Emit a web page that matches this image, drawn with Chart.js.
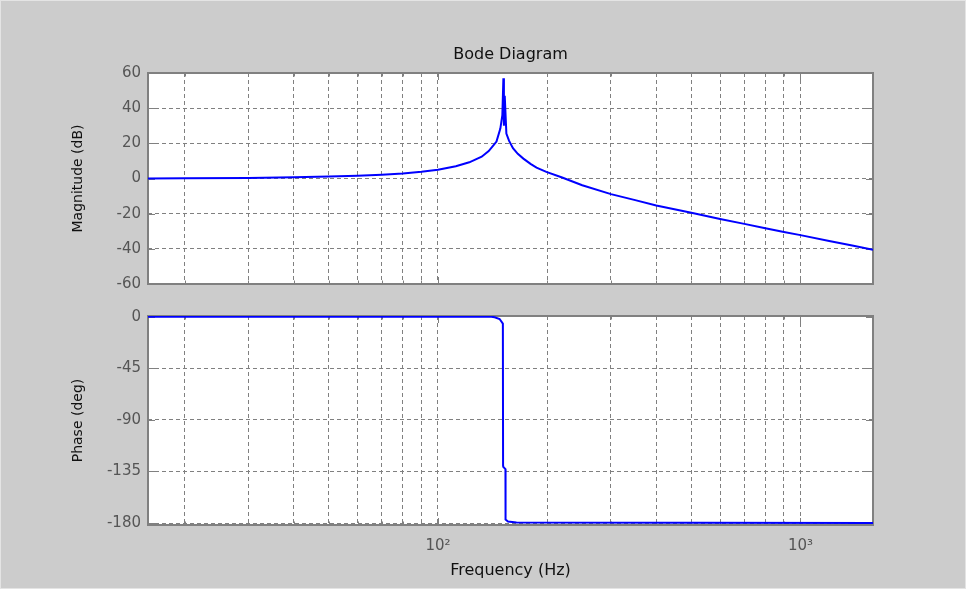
<!DOCTYPE html>
<html>
<head>
<meta charset="utf-8">
<title>Bode Diagram</title>
<script src="https://cdn.jsdelivr.net/npm/chart.js@4.4.1/dist/chart.umd.min.js"></script>
<style>
  html, body { margin: 0; padding: 0; background: #cccccc; }
  #frame {
    position: relative;
    width: 966px;
    height: 589px;
    box-shadow: inset 1px 1px 0 #e4e4e4, inset -1px -1px 0 #e4e4e4;
  }
  #frame canvas { position: absolute; left: 0; }
  #magChart { top: 0; }
  #phaseChart { top: 300px; }
</style>
</head>
<body>
<div id="frame">
  <canvas id="magChart" width="966" height="300"></canvas>
  <canvas id="phaseChart" width="966" height="289"></canvas>
</div>
<script>
/* ================================
   Data
================================ */
const magFreq = [15.85, 20, 30, 40, 50, 60, 70, 80, 90, 100, 112, 122, 132, 138, 142, 145,
                 148.6, 150.5, 151.5, 152, 152.8, 154.4, 157, 161, 166, 172, 180, 187, 199,
                 220, 250, 300, 350, 400, 500, 600, 700, 800, 900, 1000, 1200, 1400, 1585];
const magDb = [0, 0.1, 0.35, 0.7, 1.1, 1.6, 2.2, 2.9, 3.8, 5.0, 7.0, 9.2, 12.4, 15.6, 18.7, 21,
               28.4, 36, 57, 30, 47, 25.6, 21.5, 17.2, 14, 11.3, 8.3, 6.2, 3.8,
               0.6, -3.8, -8.9, -12.3, -15.3, -19.5, -23.0, -25.8, -28.3, -30.4, -32.2, -35.5, -38.3, -40.5];

const phaseFreq = [15.85, 140.4, 143.3, 147.9, 151.0, 151.2, 151.4, 153.5, 153.6, 156, 164.6, 1585];
const phaseDeg = [0, 0, -0.5, -2, -6, -130, -131, -133, -177, -178.6, -179.5, -180];

// grid positions and labels on the frequency axis
const freqGrid = [20, 30, 40, 50, 60, 70, 80, 90, 100, 200, 300, 400, 500, 600, 700, 800, 900, 1000];
const freqMajor = [100, 1000];
const freqLabels = ['10²', '10³'];

const magTicks = [60, 40, 20, 0, -20, -40, -60];
const phaseTicks = [0, -45, -90, -135, -180];

const FREQ_MIN = 15.85;
const FREQ_MAX = 1585;

/* ================================
   Shared styling
================================ */
const GRID = '#808080';
const FONT = "'DejaVu Sans', 'Liberation Sans', sans-serif";
const TICK_FONT = { family: FONT, size: 15 };

function toPoints(xs, ys) {
    return xs.map((x, i) => ({ x: x, y: ys[i] }));
}

function fixedTicks(values) {
    return scale => { scale.ticks = values.map(v => ({ value: v })); };
}

function freqLabel(value) {
    const i = freqMajor.indexOf(value);
    return i >= 0 ? freqLabels[i] : '';
}

// white plot area, grey box and the little inward tick marks
const plotFrame = {
    id: 'plotFrame',
    beforeDraw(chart) {
        const { ctx, chartArea: a } = chart;
        ctx.save();
        ctx.fillStyle = '#ffffff';
        ctx.fillRect(a.left, a.top, a.width, a.height);
        ctx.restore();
    },
    beforeDatasetsDraw(chart) {
        const { ctx, chartArea: a, scales } = chart;
        ctx.save();
        ctx.strokeStyle = GRID;
        ctx.lineWidth = 1;
        ctx.beginPath();
        freqGrid.forEach(f => {
            const x = Math.round(scales.x.getPixelForValue(f)) + 0.5;
            const len = freqMajor.includes(f) ? 7 : 3.5;
            ctx.moveTo(x, a.bottom); ctx.lineTo(x, a.bottom - len);
            ctx.moveTo(x, a.top); ctx.lineTo(x, a.top + len);
        });
        scales.y.ticks.forEach(t => {
            const y = Math.round(scales.y.getPixelForValue(t.value)) + 0.5;
            ctx.moveTo(a.left, y); ctx.lineTo(a.left + 7, y);
            ctx.moveTo(a.right, y); ctx.lineTo(a.right - 7, y);
        });
        ctx.stroke();
        ctx.lineWidth = 2;
        ctx.strokeRect(a.left, a.top, a.width, a.height);
        ctx.restore();
    }
};

function lineDataset(xs, ys) {
    return {
        data: toPoints(xs, ys),
        borderColor: '#0000ff',
        borderWidth: 2,
        pointRadius: 0,
        tension: 0,
        fill: false
    };
}

function gridOpts() {
    return {
        grid: { color: GRID, lineWidth: 1, drawTicks: false },
        border: { display: false, dash: [4, 3] }
    };
}

/* ================================
   Magnitude
================================ */
new Chart(document.getElementById('magChart'), {
    type: 'line',
    data: { datasets: [lineDataset(magFreq, magDb)] },
    options: {
        responsive: false,
        animation: false,
        events: [],
        layout: { padding: { left: 0, right: 93, top: 0, bottom: 12 } },
        plugins: {
            legend: { display: false },
            tooltip: { enabled: false },
            title: {
                display: true,
                text: 'Bode Diagram',
                fullSize: false,
                color: '#111',
                font: { family: FONT, size: 16, weight: 'normal' },
                padding: { top: 45, bottom: 8.8 }
            }
        },
        scales: {
            x: {
                type: 'logarithmic',
                min: FREQ_MIN,
                max: FREQ_MAX,
                bounds: 'data',
                afterBuildTicks: fixedTicks(freqGrid),
                afterFit: s => { s.height = 0; },
                ticks: { display: false },
                ...gridOpts()
            },
            y: {
                min: -60,
                max: 60,
                bounds: 'data',
                afterBuildTicks: fixedTicks(magTicks),
                afterFit: s => { s.width = 148; },
                ticks: { color: '#555', font: TICK_FONT, padding: 7 },
                title: {
                    display: true,
                    text: 'Magnitude (dB)',
                    color: '#111',
                    font: { family: FONT, size: 14 },
                    padding: { top: 70, bottom: 0 }
                },
                ...gridOpts()
            }
        }
    },
    plugins: [plotFrame]
});

/* ================================
   Phase
================================ */
new Chart(document.getElementById('phaseChart'), {
    type: 'line',
    data: { datasets: [lineDataset(phaseFreq, phaseDeg)] },
    options: {
        responsive: false,
        animation: false,
        events: [],
        layout: { padding: { left: 0, right: 93, top: 12, bottom: 0 } },
        plugins: {
            legend: { display: false },
            tooltip: { enabled: false }
        },
        scales: {
            x: {
                type: 'logarithmic',
                min: FREQ_MIN,
                max: FREQ_MAX,
                bounds: 'data',
                afterBuildTicks: fixedTicks(freqGrid),
                afterFit: s => { s.height = 64; },
                ticks: {
                    color: '#555',
                    font: TICK_FONT,
                    padding: 12,
                    autoSkip: false,
                    maxRotation: 0,
                    callback: value => freqLabel(value)
                },
                title: {
                    display: true,
                    text: 'Frequency (Hz)',
                    color: '#111',
                    font: { family: FONT, size: 16 },
                    padding: { top: 0, bottom: 8.4 }
                },
                ...gridOpts()
            },
            y: {
                min: -181.7,
                max: 0.6,
                bounds: 'data',
                afterBuildTicks: fixedTicks(phaseTicks),
                afterFit: s => { s.width = 148; },
                ticks: { color: '#555', font: TICK_FONT, padding: 7 },
                title: {
                    display: true,
                    text: 'Phase (deg)',
                    color: '#111',
                    font: { family: FONT, size: 14 },
                    padding: { top: 70, bottom: 0 }
                },
                ...gridOpts()
            }
        }
    },
    plugins: [plotFrame]
});
</script>
</body>
</html>
